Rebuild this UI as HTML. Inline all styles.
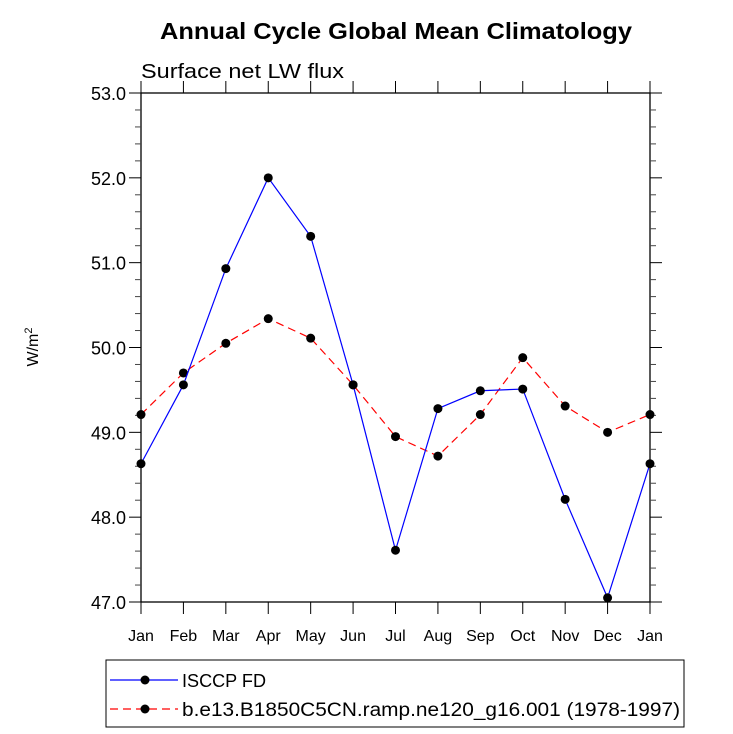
<!DOCTYPE html>
<html><head><meta charset="utf-8"><style>body{margin:0;background:#fff}svg{display:block;font-family:"Liberation Sans",sans-serif}</style></head>
<body>
<svg id="c" width="733" height="734">
<text x="160" y="39" font-size="23" font-weight="bold" textLength="472" lengthAdjust="spacingAndGlyphs">Annual Cycle Global Mean Climatology</text>
<text x="141" y="78" font-size="20" textLength="203" lengthAdjust="spacingAndGlyphs">Surface net LW flux</text>
<text transform="translate(38,347) rotate(-90)" text-anchor="middle" font-size="16">W/m<tspan dy="-6" font-size="11">2</tspan></text>
<g id="ax"></g><g id="series"></g>
<g>
<rect x="106" y="660" width="578" height="67" fill="none" stroke="#000" stroke-width="1"/>
<line x1="110" y1="680" x2="178" y2="680" stroke="#00f" stroke-width="1.2"/><circle cx="145" cy="680" r="4.5"/>
<text x="182" y="687" font-size="18" textLength="84" lengthAdjust="spacingAndGlyphs">ISCCP FD</text>
<line x1="110" y1="709" x2="178" y2="709" stroke="#f00" stroke-width="1.2" stroke-dasharray="8,5"/><circle cx="145" cy="709" r="4.5"/>
<text x="182" y="716" font-size="19" textLength="498" lengthAdjust="spacingAndGlyphs">b.e13.B1850C5CN.ramp.ne120_g16.001 (1978-1997)</text>
</g>
</svg>
<script>
const months=["Jan","Feb","Mar","Apr","May","Jun","Jul","Aug","Sep","Oct","Nov","Dec","Jan"];
const isccp=[48.63,49.56,50.93,52.0,51.31,49.56,47.61,49.28,49.49,49.51,48.21,47.05,48.63];
const model=[49.21,49.70,50.05,50.34,50.11,49.56,48.95,48.72,49.21,49.88,49.31,49.00,49.21];
const yTicks=[47,48,49,50,51,52,53];
const L=141,R=650,T=93,B=602,ymin=47,ymax=53;
const xs=i=>L+i*(R-L)/12, ys=v=>B-(v-ymin)*(B-T)/(ymax-ymin);
const NS="http://www.w3.org/2000/svg";
function mk(p,t,a){const e=document.createElementNS(NS,t);for(const k in a)e.setAttribute(k,a[k]);p.appendChild(e);return e;}
const ax=document.getElementById('ax');
mk(ax,'rect',{x:L,y:T,width:R-L,height:B-T,fill:'none',stroke:'#000','stroke-width':1.3});
months.forEach((m,i)=>{const x=xs(i);
mk(ax,'line',{x1:x,y1:B,x2:x,y2:B+12,stroke:'#000'});
mk(ax,'line',{x1:x,y1:T,x2:x,y2:T-12,stroke:'#000'});
const t=mk(ax,'text',{x:x,y:B+39,'text-anchor':'middle','font-size':16});t.textContent=m;

});
for(let v=ymin;v<=ymax+1e-9;v+=0.2){const y=ys(v);const maj=Math.abs(v-Math.round(v))<1e-6;const l=maj?12:6;
mk(ax,'line',{x1:L,y1:y,x2:L-l,y2:y,stroke:maj?'#000':'#444'});mk(ax,'line',{x1:R,y1:y,x2:R+l,y2:y,stroke:maj?'#000':'#444'});}
yTicks.forEach(v=>{const t=mk(ax,'text',{x:L-15,y:ys(v)+7,'text-anchor':'end','font-size':18});t.textContent=v.toFixed(1);

});
const sg=document.getElementById('series');
function draw(d,col,dash,name){const pts=d.map((v,i)=>xs(i)+','+ys(v)).join(' ');
const pl=mk(sg,'polyline',{points:pts,fill:'none',stroke:col,'stroke-width':1.2,'stroke-dasharray':dash});


d.forEach((v,i)=>{const c=mk(sg,'circle',{cx:xs(i),cy:ys(v),r:4.5,fill:'#000'});

});}
draw(model,'#f00','8,5','model');
draw(isccp,'#00f','none','isccp');
</script>
</body></html>
